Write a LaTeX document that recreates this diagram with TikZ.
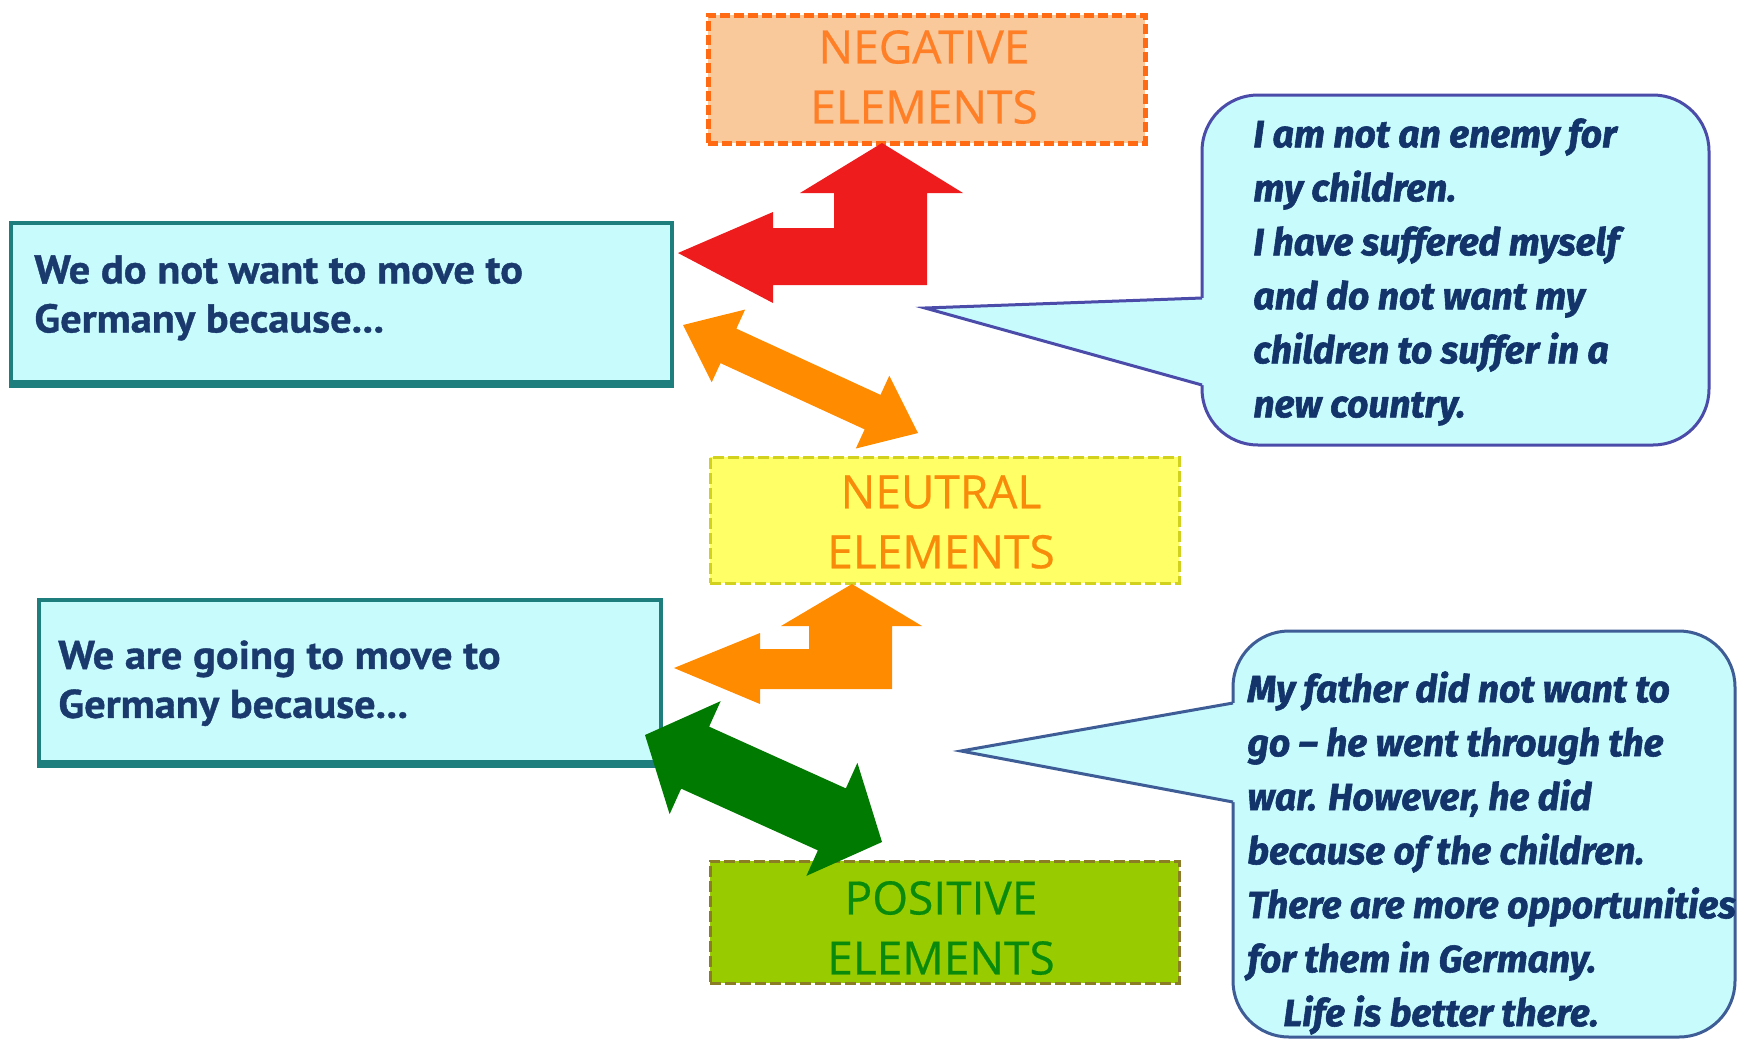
\documentclass[tikz,border=0pt]{standalone}
\usepackage{fontspec}
\setmainfont{PT Sans}
\newfontfamily\boxfont[FakeStretch=1.06, BoldFeatures={FakeBold=1}]{PT Sans}
\newfontfamily\lblfont[FakeBold=0.5]{Open Sans}
\newfontfamily\bubfont[FakeStretch=0.98, BoldItalicFeatures={FakeBold=1.5}]{Fira Sans}
\definecolor{negfill}{HTML}{F9C89B}
\definecolor{negdraw}{HTML}{FF6A13}
\definecolor{negtext}{HTML}{FF7F27}
\definecolor{neufill}{HTML}{FFFF66}
\definecolor{neudraw}{HTML}{D2D21E}
\definecolor{neutext}{HTML}{F98B0A}
\definecolor{posfill}{HTML}{99CC00}
\definecolor{posdraw}{HTML}{8B7D26}
\definecolor{postext}{HTML}{0A8A0A}
\definecolor{redarrow}{HTML}{EE1C1C}
\definecolor{orangearrow}{HTML}{FF8C00}
\definecolor{greenarrow}{HTML}{007A00}
\definecolor{boxfill}{HTML}{C8FCFC}
\definecolor{boxline}{HTML}{1E7E7E}
\definecolor{navy}{HTML}{1A3A6E}
\definecolor{bubfill}{HTML}{C8FCFC}
\definecolor{bubline}{HTML}{4B4BAA}
\definecolor{bublinetwo}{HTML}{3E5C96}
\definecolor{bubtextcol}{HTML}{13336B}
\begin{document}
\begin{tikzpicture}[x=0.5pt,y=-0.5pt,
 elbox/.style={rectangle, line width=1.5pt, dash pattern=on 5.5pt off 2pt, inner sep=0pt},
 eltext/.style={align=center, inner sep=0pt, font=\lblfont\fontsize{23}{30}\selectfont},
 qbox/.style={rectangle, draw=boxline, fill=boxfill, line width=1.7pt, inner sep=0pt},
 qtext/.style={align=left, inner sep=0pt, text=navy, font=\boxfont\bfseries\fontsize{20}{24.5}\selectfont},
 bubbody/.style={rectangle, rounded corners=28pt, fill=bubfill, line width=1.5pt, inner sep=0pt},
 bubtext/.style={align=left, inner sep=0pt, text=bubtextcol, font=\bubfont\bfseries\itshape\fontsize{19}{27}\selectfont}
]
\useasboundingbox[fill=white] (0,0) rectangle (1757,1040);

% element boxes
\node[elbox, draw=negdraw, fill=negfill, line width=2.5pt, dash pattern=on 5pt off 2pt, minimum width=218.5pt, minimum height=64pt] (neg) at (926.5,79) {};
\node[eltext, text=negtext] (negtxt) at (924,77) {NEGATIVE\\ELEMENTS};
\node[elbox, draw=neudraw, fill=neufill, minimum width=234.5pt, minimum height=63pt] (neu) at (944.5,520) {};
\node[eltext, text=neutext] (neutxt) at (941,522) {NEUTRAL\\ELEMENTS};
\node[elbox, draw=posdraw, fill=posfill, minimum width=234.5pt, minimum height=61pt] (pos) at (944.5,922) {};
\node[eltext, text=postext] (postxt) at (941,928) {POSITIVE\\ELEMENTS};

% question boxes
\node[qbox, minimum width=330.5pt, minimum height=79.5pt] (q1) at (341.5,302.5) {};
\draw[boxline, line width=2pt] ([yshift=-1pt]q1.south west) -- ([yshift=-1pt]q1.south east);
\node[qtext, anchor=north west] (q1txt) at (34,255) {We do not want to move to\\Germany because...};
\node[qbox, minimum width=311pt, minimum height=81pt] (q2) at (350,681) {};
\draw[boxline, line width=2pt] ([yshift=-1pt]q2.south west) -- ([yshift=-1pt]q2.south east);
\node[qtext, anchor=north west] (q2txt) at (58,640) {We are going to move to\\Germany because...};

% speech bubble 1
\node[bubbody, draw=bubline, minimum width=253.5pt, minimum height=175pt] (bub1) at (1455.5,270) {};
\coordinate (tip1) at (925,308);
\fill[bubfill] (1202,298) -- (tip1) -- (1202,385) -- (1206,385) -- (1206,298) -- cycle;
\draw[bubline, line width=1.5pt, line join=miter] (1202,298) -- (tip1) -- (1202,385);
\node[bubtext, anchor=north west] (bub1txt) at (1253,118) {I am not an enemy for\\my children.\\I have suffered myself\\and do not want my\\children to suffer in a\\new country.};

% speech bubble 2
\node[bubbody, draw=bublinetwo, minimum width=251pt, minimum height=203pt] (bub2) at (1484,834) {};
\coordinate (tip2) at (961,751);
\fill[bubfill] (1233,703) -- (tip2) -- (1233,802) -- (1237,802) -- (1237,703) -- cycle;
\draw[bublinetwo, line width=1.5pt, line join=miter] (1233,703) -- (tip2) -- (1233,802);
\node[bubtext, anchor=north west] (bub2txt) at (1247,671) {My father did not want to\\go – he went through the\\war. However, he did\\because of the children.\\There are more opportunities\\for them in Germany.\\\hspace*{18pt}Life is better there.};

% red bent arrow (negative)
\fill[redarrow] (678,253) -- (773,212) -- (773,228) -- (834,228) -- (834,193) -- (800,193) -- (882,143) -- (963,193) -- (927,193) -- (927,285) -- (773,285) -- (773,303) -- cycle;

% orange double arrow
\fill[orangearrow] (683,325) -- (745.13,309.54) -- (736.36,328.62) -- (880.50,394.86) -- (889.27,375.78) -- (918,433) -- (855.87,448.46) -- (864.64,429.38) -- (720.50,363.14) -- (711.73,382.22) -- cycle;

% orange bent arrow (neutral)
\fill[orangearrow] (674,668) -- (760,633) -- (760,649) -- (809,649) -- (809,626) -- (781,626) -- (852,584) -- (922,626) -- (892,626) -- (892,689) -- (760,689) -- (760,704) -- cycle;

% green double arrow
\fill[greenarrow] (645,735) -- (720.64,701.12) -- (709.12,726.64) -- (845.86,788.38) -- (857.38,762.86) -- (882,842) -- (806.36,875.88) -- (817.88,850.36) -- (681.14,788.62) -- (669.62,814.14) -- cycle;
\end{tikzpicture}
\end{document}
